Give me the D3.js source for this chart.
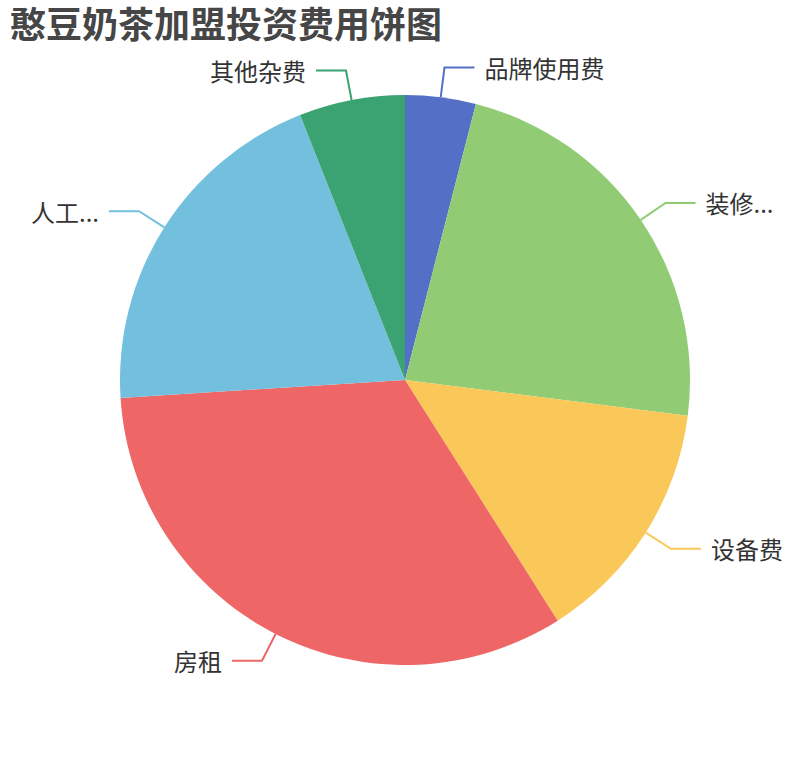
<!DOCTYPE html>
<html>
<head>
<meta charset="utf-8">
<script src="https://cdn.jsdelivr.net/npm/d3@7/dist/d3.min.js"></script>
<style>
  html, body { margin: 0; padding: 0; background: #fff; }
  svg { display: block; }
</style>
</head>
<body>
<svg id="chart" width="810" height="760"></svg>
<script>
const titleText = "憨豆奶茶加盟投资费用饼图";
const categories = ["品牌使用费", "装修...", "设备费", "房租", "人工...", "其他杂费"];
const values = [4, 23, 14, 33, 20, 6];
const colors = ["#5470c6", "#91cc75", "#fac858", "#ee6666", "#73c0de", "#3ba272"];

const W = 810, H = 760;
const cx = W / 2, cy = H / 2;
const R = Math.min(W, H) / 2 * 0.75;
const len1 = 30, len2 = 30, gap = 10;
const font = "'Noto Sans CJK SC', 'Noto Sans', sans-serif";

const svg = d3.select("#chart");

svg.append("text")
  .attr("x", 10).attr("y", 38)
  .attr("font-family", font)
  .attr("font-size", 36)
  .attr("font-weight", "bold")
  .attr("fill", "#464646")
  .text(titleText);

const data = categories.map((c, i) => ({ name: c, value: values[i], color: colors[i] }));
const pie = d3.pie().sort(null).value(d => d.value);
const arcs = pie(data);
const arc = d3.arc().innerRadius(0).outerRadius(R);

const g = svg.append("g").attr("transform", `translate(${cx},${cy})`);

g.selectAll("path.slice").data(arcs).enter().append("path")
  .attr("class", "slice")
  .attr("d", arc)
  .attr("fill", d => d.data.color);

arcs.forEach(d => {
  const a = (d.startAngle + d.endAngle) / 2;
  const sx = Math.sin(a), sy = -Math.cos(a);
  const p1 = [R * sx, R * sy];
  const p2 = [(R + len1) * sx, (R + len1) * sy];
  const dir = sx >= 0 ? 1 : -1;
  const p3 = [p2[0] + dir * len2, p2[1]];
  g.append("path")
    .attr("d", d3.line()([p1, p2, p3]))
    .attr("fill", "none")
    .attr("stroke", d.data.color)
    .attr("stroke-width", 2);
  g.append("text")
    .attr("x", p3[0] + dir * gap)
    .attr("y", p3[1])
    .attr("dominant-baseline", "central")
    .attr("text-anchor", dir > 0 ? "start" : "end")
    .attr("font-family", font)
    .attr("font-size", 24)
    .attr("fill", "#333")
    .text(d.data.name);
});
</script>
</body>
</html>
